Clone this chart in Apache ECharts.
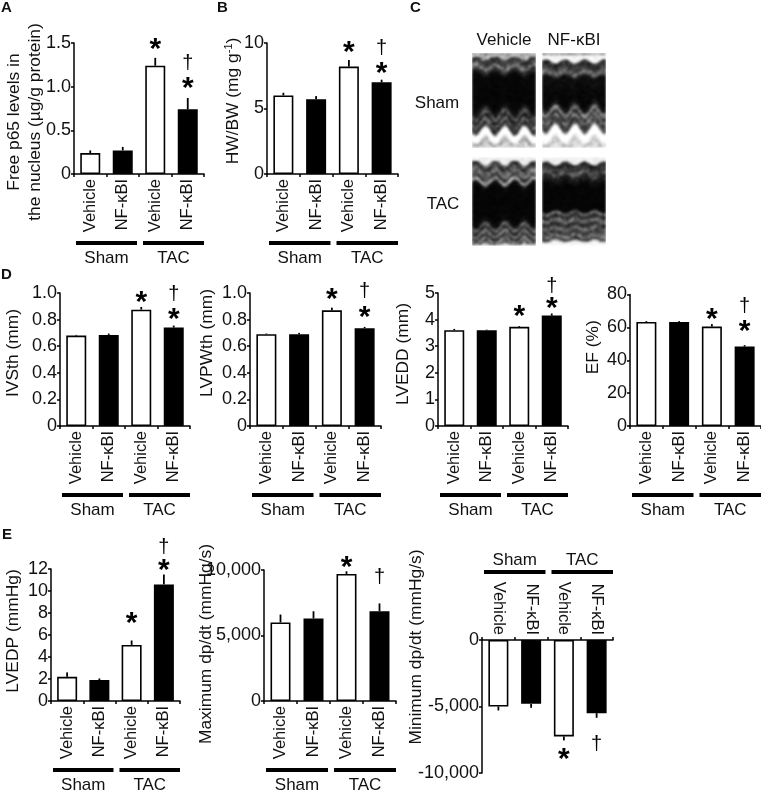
<!DOCTYPE html>
<html><head><meta charset="utf-8">
<style>html,body{margin:0;padding:0;background:#fff}#c{width:761px;height:792px}</style>
<script src="https://cdn.jsdelivr.net/npm/echarts@6/dist/echarts.min.js"></script>
</head><body><div id="c"></div>
<script>
// ---- data ----
const categories = ['Vehicle','NF-κBI','Vehicle','NF-κBI'];
const groups = ['Sham','TAC'];

const aValues=[0.24,0.27,1.24,0.74], aErrors=[0.27,0.31,1.33,0.87], aTicks=['0','0.5','1.0','1.5'];
const bValues=[6.0,5.7,8.2,7.0],     bErrors=[6.2,5.95,8.7,7.2],    bTicks=['0','5','10'];
const d1Values=[0.68,0.685,0.875,0.74], d1Errors=[0.685,0.695,0.895,0.755], d1Ticks=['0','0.2','0.4','0.6','0.8','1.0'];
const d2Values=[0.69,0.69,0.87,0.735],  d2Errors=[0.695,0.70,0.89,0.745],   d2Ticks=['0','0.2','0.4','0.6','0.8','1.0'];
const d3Values=[3.6,3.6,3.73,4.15],  d3Errors=[3.65,3.62,3.76,4.23], d3Ticks=['0','1','2','3','4','5'];
const d4Values=[63.3,63.3,60.5,48.3],d4Errors=[63.8,63.8,62,49.2],   d4Ticks=['0','20','40','60','80'];
const e1Values=[2.2,1.9,5.1,10.6],   e1Errors=[2.6,2.05,5.5,11.5],   e1Ticks=['0','2','4','6','8','10','12'];
const e2Values=[6000,6300,9700,6850],e2Errors=[6600,6850,9900,7450], e2Ticks=['0','5,000','10,000'];
const e3Values=[-5000,-4800,-7250,-5500],e3Errors=[-5300,-5100,-7550,-5850], e3Ticks=['-10,000','-5,000','0'];

const starsBoth=['','','*','*'], starsThird=['','','*',''];
const daggersLast=['','','','†'];

// ---- layout ----
const FONT="'Liberation Sans',Arial,sans-serif", INK='#111';
const panels=[
 {v:aValues,e:aErrors,t:aTicks,s:starsBoth,d:daggersLast,l:74,top:43,w:130,h:131,name:'Free p65 levels in\nthe nucleus (µg/g protein)',gap:28,shift:13.5,sg:[0,0,13,14],dg:[0,0,0,35]},
 {v:bValues,e:bErrors,t:bTicks,s:starsBoth,d:daggersLast,l:267,top:43,w:131,h:131,name:'HW/BW (mg g{sup|-1})',gap:23,shift:-7.5,sg:[0,0,12,11],dg:[0,0,0,31]},
 {v:d1Values,e:d1Errors,t:d1Ticks,s:starsBoth,d:daggersLast,l:60,top:293,w:130,h:133,name:'IVSth (mm)',gap:36,shift:-6.5,sg:[0,0,9,11],dg:[0,0,0,31]},
 {v:d2Values,e:d2Errors,t:d2Ticks,s:starsBoth,d:daggersLast,l:250,top:293,w:131,h:133,name:'LVPWth (mm)',gap:32,shift:-16.5,sg:[0,0,13,14],dg:[0,0,0,35]},
 {v:d3Values,e:d3Errors,t:d3Ticks,s:starsBoth,d:daggersLast,l:438,top:293,w:130,h:133,name:'LVEDD (mm)',gap:24,shift:-5.5,sg:[0,0,14,10],dg:[0,0,0,27]},
 {v:d4Values,e:d4Errors,t:d4Ticks,s:starsBoth,d:daggersLast,l:630,top:294.5,w:131,h:131.5,name:'EF (%)',gap:26,shift:-13,sg:[0,0,9,18],dg:[0,0,0,39]},
 {v:e1Values,e:e1Errors,t:e1Ticks,s:starsBoth,d:daggersLast,l:51,top:569,w:129,h:132,name:'LVEDP (mmHg)',gap:27,shift:-4,sg:[0,0,22,9],dg:[0,0,0,27]},
 {v:e2Values,e:e2Errors,t:e2Ticks,s:starsThird,d:daggersLast,l:264,top:570,w:132,h:131,name:'Maximum dp/dt (mmHg/s)',gap:47,shift:8.5,sg:[0,0,9,0],dg:[0,0,0,26]},
 {v:e3Values,e:e3Errors,t:e3Ticks,s:starsThird,d:daggersLast,l:482,top:640,w:131,h:133,name:'Minimum dp/dt (mmHg/s)',gap:55,shift:-59.5,sg:[0,0,14,0],dg:[0,0,0,27],flip:true}
];
const num=s=>Number(s.replace(/,/g,''));

const grid=[],xAxis=[],yAxis=[],series=[];
panels.forEach((p,i)=>{
  const nums=p.t.map(num);
  grid.push({left:p.l,top:p.top,width:p.w,height:p.h,containLabel:false,outerBoundsMode:'none'});
  xAxis.push({type:'category',gridIndex:i,data:categories,position:p.flip?'top':'bottom',
    axisLine:{onZero:false,lineStyle:{color:'#000',width:1.5}},
    axisTick:{show:true,length:3,inside:false,lineStyle:{color:'#000',width:1.5}},
    axisLabel:{interval:0,rotate:90,fontSize:16.5,fontFamily:FONT,color:INK,margin:5}});
  yAxis.push({type:'value',gridIndex:i,min:nums[0],max:nums[nums.length-1],interval:nums[1]-nums[0],
    splitLine:{show:false},
    axisLine:{show:true,onZero:false,lineStyle:{color:'#000',width:1.5}},
    axisTick:{show:true,length:3,lineStyle:{color:'#000',width:1.5}},
    axisLabel:{fontSize:18,fontFamily:FONT,color:INK,margin:3,formatter:(v)=>{const k=nums.indexOf(v);return k<0?'':p.t[k];}},
    name:p.name,nameLocation:'middle',nameRotate:90,nameGap:p.gap,nameMoveOverlap:false,
    nameTextStyle:{fontSize:17.4,fontFamily:FONT,color:INK,lineHeight:21,
      padding:[0,p.shift>0?2*p.shift:0,0,p.shift<0?-2*p.shift:0],
      rich:{sup:{fontSize:11,fontFamily:FONT,color:INK,verticalAlign:'top',lineHeight:21}}}});
  // error whiskers (drawn below the bars)
  series.push({type:'custom',xAxisIndex:i,yAxisIndex:i,z:1,silent:true,
    data:p.v.map((v,k)=>[k,v,p.e[k]]),encode:{x:0,y:[1,2]},
    renderItem:(info,api)=>{
      const a=api.coord([api.value(0),api.value(1)]),b=api.coord([api.value(0),api.value(2)]);
      return {type:'line',shape:{x1:a[0],y1:a[1],x2:b[0],y2:b[1]},style:{stroke:'#000',lineWidth:1.8}};
    }});
  // bars
  series.push({type:'bar',xAxisIndex:i,yAxisIndex:i,z:2,barWidth:20,data:p.v,silent:true,
    itemStyle:{color:c=>c.dataIndex%2?'#000':'#fff',borderColor:'#000',borderWidth:1.6}});
  // significance marks
  series.push({type:'custom',xAxisIndex:i,yAxisIndex:i,z:3,silent:true,
    data:p.v.map((v,k)=>[k,p.e[k]]),encode:{x:0,y:1},
    renderItem:(info,api)=>{
      const k=api.value(0),c=api.coord([k,api.value(1)]),dir=p.flip?1:-1,kids=[];
      if(p.s[k])kids.push({type:'text',x:c[0],y:c[1]+dir*p.sg[k]+5,style:{text:p.s[k],font:'bold 30px '+FONT,fill:'#000',align:'center',verticalAlign:'middle',textAlign:'center',textVerticalAlign:'middle'}});
      if(p.d[k])kids.push({type:'text',x:c[0],y:c[1]+dir*p.dg[k],style:{text:p.d[k],font:'20px '+FONT,fill:'#000',align:'center',verticalAlign:'middle',textAlign:'center',textVerticalAlign:'middle'}});
      return {type:'group',children:kids};
    }});
  // Sham / TAC group rules and labels
  series.push({type:'custom',xAxisIndex:i,yAxisIndex:i,z:3,silent:true,
    data:groups.map((g,k)=>[k*2,p.v[k*2]]),encode:{x:0,y:1},
    renderItem:(info,api)=>{
      const k=api.value(0),bw=api.size([1,0])[0],x0=api.coord([k,0])[0]-bw/2;
      const x1=x0+(k?4:2),x2=x0+2*bw-(k?0:2);
      const base=p.flip?p.top:p.top+p.h,ruleY=p.flip?base-68:base+69,labY=p.flip?base-80:base+84.5;
      return {type:'group',children:[
        {type:'rect',shape:{x:x1,y:ruleY-2,width:x2-x1,height:4},style:{fill:'#000'}},
        {type:'text',x:(x1+x2)/2,y:labY,style:{text:groups[k/2],font:'17px '+FONT,fill:INK,align:'center',verticalAlign:'middle',textAlign:'center',textVerticalAlign:'middle'}}
      ]};
    }});
});

// ---- panel letters and labels ----
const txt=(s,x,y,f,al)=>({type:'text',x,y,z:10,style:{text:s,font:f,fill:INK,align:al||'center',verticalAlign:'middle',textAlign:al||'center',textVerticalAlign:'middle'}});
const letter=(s,x,y)=>txt(s,x,y,'bold 15px '+FONT,'left');
const graphic=[letter('A',1,8),letter('B',217,8),letter('C',410,8),letter('D',1,275),letter('E',2,535),
  txt('Vehicle',504,40,'17px '+FONT),txt('NF-κBI',574,40,'17px '+FONT),txt('Sham',437,103,'17px '+FONT),txt('TAC',443,204,'17px '+FONT)];

// ---- panel C: a grey look-alike of the M-mode photographs (illustration, not data) ----
const shamProfileV=[[0,.6],[3,.75],[6,.22],[10,.25],[14,.5],[17,.2],[22,.03],[50,.02],[57,.08],[62,.36],[66,.12],[70,.4],[73,.18],[76,.3],[79,1],[85,1],[87,.85],[90,.65],[93,.8],[95,.95]];
const shamProfileN=[[0,.55],[3,.98],[7,.95],[9,.2],[14,.2],[20,.45],[24,.06],[48,.02],[54,.1],[58,.55],[62,.2],[66,.45],[70,.22],[74,.35],[77,1],[84,1],[87,.88],[91,.75],[95,.95]];
const tacProfileV=[[0,.95],[4,.92],[6,.4],[9,.16],[13,.38],[17,.42],[20,.2],[24,.7],[27,.06],[33,.02],[60,.02],[66,.06],[70,.4],[73,.12],[76,.5],[80,.18],[84,.5],[86,.25],[88,.95],[90,1]];
const tacProfileN=[[0,.95],[5,.92],[7,.14],[12,.2],[16,.35],[20,.14],[24,.08],[28,.02],[53,.02],[56,.42],[59,.12],[63,.45],[67,.14],[71,.4],[75,.22],[79,.5],[82,.2],[85,.95],[90,1]];
const lerp=(pr,y)=>{if(y<=pr[0][0])return pr[0][1];for(let i=1;i<pr.length;i++){if(y<=pr[i][0]){const a=pr[i-1],b=pr[i];return a[1]+(b[1]-a[1])*(y-a[0])/(b[0]-a[0]);}}return pr[pr.length-1][1];};
const hash=(x,y,s)=>{const t=Math.sin(x*12.9898+y*78.233+s*37.719)*43758.5453;return t-Math.floor(t);};
function echoImage(w,h,profile,ampTop,ampBottom,seed,split){
  const src=document.createElement('canvas');src.width=w;src.height=h;
  const ctx=src.getContext('2d'),img=ctx.createImageData(w,h);
  for(let y=0;y<h;y++)for(let x=0;x<w;x++){
    const phase=Math.cos(2*Math.PI*(x-13)/19.5);
    const amp=y<split?ampTop:ampBottom,dir=y<split?1:-1;
    const edge=Math.min(1,Math.abs(y-h+1)/6);
    let v=lerp(profile,y-dir*amp*phase*(y<4?0:edge));
    const n=hash(x>>1,y>>1,seed)-.5,n2=hash(x>>2,(y>>1)+3,seed+1)-.5;
    v+=v*(1-v)*(n*1.1+n2*.7);
    const g=Math.max(0,Math.min(255,Math.round(v*255)));
    const k=(y*w+x)*4;img.data[k]=img.data[k+1]=img.data[k+2]=g;img.data[k+3]=255;
  }
  ctx.putImageData(img,0,0);
  const out=document.createElement('canvas');out.width=w;out.height=h;
  const c2=out.getContext('2d');c2.filter='blur(0.9px)';c2.drawImage(src,0,0);
  return out;
}
const echoTiles=[[472,53,64,95,shamProfileV,2.5,5,1,50],[542,53,64,95,shamProfileN,2,5,2,45],[472,157,64,89,tacProfileV,3.5,4,3,45],[542,157,64,89,tacProfileN,2,1.6,4,45]];
echoTiles.forEach(t=>graphic.push({type:'image',x:t[0],y:t[1],z:5,style:{image:echoImage(t[2],t[3],t[4],t[5],t[6],t[7],t[8]),width:t[2],height:t[3]}}));

const chart=echarts.init(document.getElementById('c'),null,{renderer:'canvas'});
chart.setOption({backgroundColor:'#fff',animation:false,tooltip:{show:false},legend:{show:false},grid,xAxis,yAxis,series,graphic});
</script></body></html>
